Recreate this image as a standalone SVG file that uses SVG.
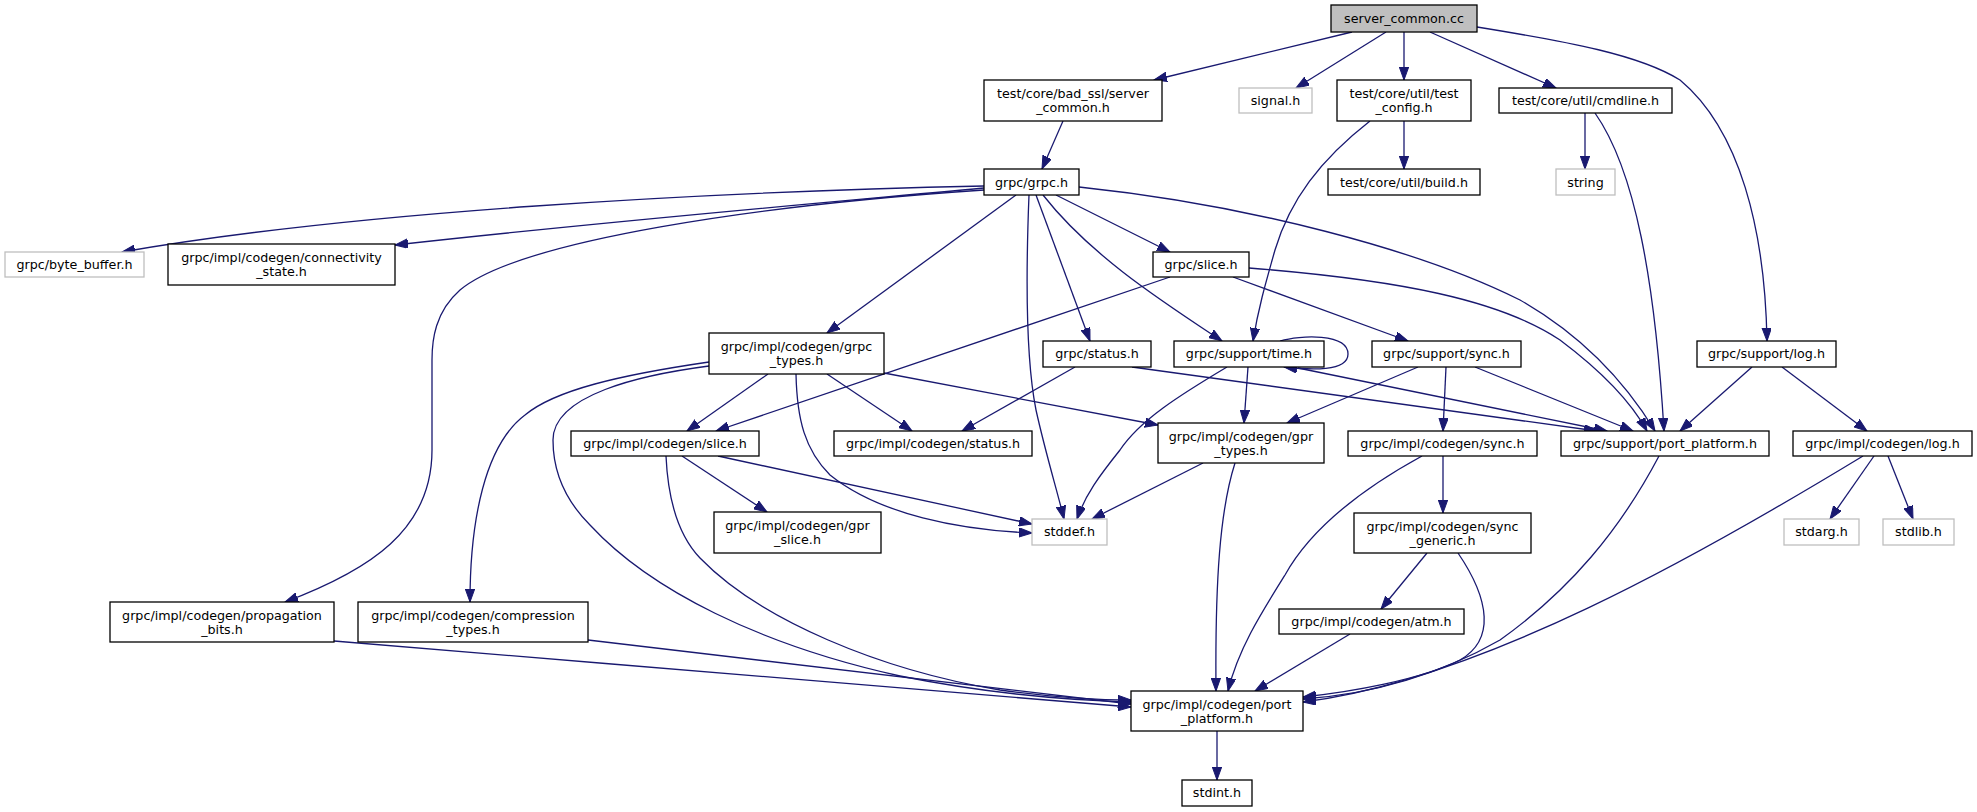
<svg xmlns="http://www.w3.org/2000/svg" width="1977" height="812" viewBox="0 0 1977 812">
<defs>
<marker id="ah" markerUnits="userSpaceOnUse" markerWidth="14" markerHeight="10" refX="13" refY="4.7" orient="auto">
<path d="M0,0 L13,4.7 L0,9.4 z" fill="#191970" stroke="#191970" stroke-width="1"/>
</marker>
</defs>
<style>
.n rect{fill:#ffffff;stroke:#000000;stroke-width:1.3}
.x rect{fill:#ffffff;stroke:#bfbfbf;stroke-width:1.3}
.r rect{fill:#bfbfbf;stroke:#000000;stroke-width:1.3}
text{font-family:"DejaVu Sans","Liberation Sans",sans-serif;font-size:12.7px;fill:#000000;text-anchor:middle}
#edges path{fill:none;stroke:#191970;stroke-width:1.3;marker-end:url(#ah)}
</style>
<rect width="1977" height="812" fill="#ffffff"/>
<g id="edges">
<path d="M1352,32 L1154,80"/>
<path d="M1386,32 L1296,88"/>
<path d="M1404,32 L1404,80"/>
<path d="M1430,32 L1556,88"/>
<path d="M1477,27 C1570,42 1640,55 1680,80 C1740,130 1765,230 1767,341"/>
<path d="M1063,121 L1042,169"/>
<path d="M1404,121 L1404,169"/>
<path d="M1370,121 C1320,160 1290,200 1275,250 C1265,285 1258,310 1253,341"/>
<path d="M1585,113 L1585,169"/>
<path d="M1595,113 C1635,170 1655,280 1664,431"/>
<path d="M1752,367 L1680,431"/>
<path d="M1782,367 L1867,431"/>
<path d="M1874,456 L1830,519"/>
<path d="M1888,456 L1913,519"/>
<path d="M1863,456 C1700,555 1480,680 1303,702"/>
<path d="M984,186 C700,192 350,212 122,252"/>
<path d="M984,188 C800,205 600,222 395,245"/>
<path d="M984,190 C760,205 520,240 460,290 C435,312 432,340 432,360 L432,450 C432,530 370,570 285,602"/>
<path d="M1016,195 L827,333"/>
<path d="M1029,195 C1026,270 1026,360 1036,410 C1046,455 1057,490 1064,519"/>
<path d="M1036,195 L1090,341"/>
<path d="M1043,195 C1090,255 1160,300 1222,341"/>
<path d="M1056,195 L1170,252"/>
<path d="M1079,187 C1250,205 1420,250 1520,300 C1590,340 1630,390 1655,431"/>
<path d="M1170,277 L716,431"/>
<path d="M1233,277 L1408,341"/>
<path d="M1249,268 C1400,280 1500,300 1560,340 C1600,370 1630,400 1647,431"/>
<path d="M1075,367 L962,431"/>
<path d="M1132,367 L1597,431"/>
<path d="M1298,368 L1607,431"/>
<path d="M1280,341 C1300,335 1348,333 1348,354 C1348,372 1310,370 1284,367"/>
<path d="M1227,367 C1180,395 1140,420 1120,450 C1100,475 1085,495 1077,519"/>
<path d="M1248,367 L1244,423"/>
<path d="M1418,367 L1287,423"/>
<path d="M1446,367 L1443,431"/>
<path d="M1475,367 L1633,431"/>
<path d="M768,374 L687,431"/>
<path d="M827,374 L912,431"/>
<path d="M884,373 L1158,425"/>
<path d="M796,374 C797,420 805,450 830,475 C880,515 960,530 1032,533"/>
<path d="M709,366 C640,375 553,395 553,440 C553,470 565,500 590,525 C650,590 760,645 900,676 C980,692 1060,700 1131,702"/>
<path d="M709,362 C620,375 555,390 525,415 C485,445 470,520 470,602"/>
<path d="M682,456 L767,512"/>
<path d="M718,456 L1032,524"/>
<path d="M666,456 C668,500 678,535 700,558 C760,620 880,670 1000,690 C1060,698 1100,700 1131,700"/>
<path d="M1203,463 L1092,519"/>
<path d="M1235,463 C1220,510 1215,580 1216,691"/>
<path d="M1443,456 L1443,513"/>
<path d="M1422,456 C1360,490 1310,530 1285,575 C1260,615 1238,650 1228,691"/>
<path d="M1427,553 L1381,609"/>
<path d="M1458,553 C1490,600 1495,640 1460,660 C1420,680 1350,692 1303,697"/>
<path d="M1350,634 L1255,691"/>
<path d="M1659,456 C1620,530 1570,590 1500,640 C1430,680 1360,695 1303,699"/>
<path d="M1217,731 L1217,780"/>
<path d="M334,641 C600,662 900,690 1131,707"/>
<path d="M588,640 L1131,704"/>
</g>
<g id="n0" class="r"><rect x="1331" y="5" width="146" height="27"/><text x="1404" y="23">server_common.cc</text></g>
<g id="n1" class="n"><rect x="984" y="80" width="178" height="41"/><text x="1073" y="97.5">test/core/bad_ssl/server</text><text x="1073" y="112">_common.h</text></g>
<g id="n2" class="x"><rect x="1239" y="88" width="73" height="25"/><text x="1275.5" y="105">signal.h</text></g>
<g id="n3" class="n"><rect x="1337" y="80" width="134" height="41"/><text x="1404" y="97.5">test/core/util/test</text><text x="1404" y="112">_config.h</text></g>
<g id="n4" class="n"><rect x="1499" y="88" width="173" height="25"/><text x="1585.5" y="105">test/core/util/cmdline.h</text></g>
<g id="n5" class="n"><rect x="984" y="169" width="95" height="26"/><text x="1031.5" y="186.5">grpc/grpc.h</text></g>
<g id="n6" class="n"><rect x="1328" y="169" width="152" height="26"/><text x="1404" y="186.5">test/core/util/build.h</text></g>
<g id="n7" class="x"><rect x="1556" y="169" width="59" height="26"/><text x="1585.5" y="186.5">string</text></g>
<g id="n8" class="x"><rect x="5" y="252" width="139" height="25"/><text x="74.5" y="269">grpc/byte_buffer.h</text></g>
<g id="n9" class="n"><rect x="168" y="244" width="227" height="41"/><text x="281.5" y="261.5">grpc/impl/codegen/connectivity</text><text x="281.5" y="276">_state.h</text></g>
<g id="n10" class="n"><rect x="1153" y="252" width="96" height="25"/><text x="1201" y="269">grpc/slice.h</text></g>
<g id="n11" class="n"><rect x="709" y="333" width="175" height="41"/><text x="796.5" y="350.5">grpc/impl/codegen/grpc</text><text x="796.5" y="365">_types.h</text></g>
<g id="n12" class="n"><rect x="1043" y="341" width="108" height="26"/><text x="1097" y="358">grpc/status.h</text></g>
<g id="n13" class="n"><rect x="1174" y="341" width="150" height="26"/><text x="1249" y="358">grpc/support/time.h</text></g>
<g id="n14" class="n"><rect x="1372" y="341" width="149" height="26"/><text x="1446.5" y="358">grpc/support/sync.h</text></g>
<g id="n15" class="n"><rect x="1697" y="341" width="139" height="26"/><text x="1766.5" y="358">grpc/support/log.h</text></g>
<g id="n16" class="n"><rect x="571" y="431" width="188" height="25"/><text x="665" y="448">grpc/impl/codegen/slice.h</text></g>
<g id="n17" class="n"><rect x="834" y="431" width="198" height="25"/><text x="933" y="448">grpc/impl/codegen/status.h</text></g>
<g id="n18" class="n"><rect x="1158" y="423" width="166" height="40"/><text x="1241" y="440.5">grpc/impl/codegen/gpr</text><text x="1241" y="455">_types.h</text></g>
<g id="n19" class="n"><rect x="1348" y="431" width="189" height="25"/><text x="1442.5" y="448">grpc/impl/codegen/sync.h</text></g>
<g id="n20" class="n"><rect x="1561" y="431" width="208" height="25"/><text x="1665" y="448">grpc/support/port_platform.h</text></g>
<g id="n21" class="n"><rect x="1793" y="431" width="179" height="25"/><text x="1882.5" y="448">grpc/impl/codegen/log.h</text></g>
<g id="n22" class="n"><rect x="714" y="512" width="167" height="41"/><text x="797.5" y="529.5">grpc/impl/codegen/gpr</text><text x="797.5" y="544">_slice.h</text></g>
<g id="n23" class="x"><rect x="1032" y="519" width="75" height="26"/><text x="1069.5" y="536">stddef.h</text></g>
<g id="n24" class="n"><rect x="1354" y="513" width="177" height="40"/><text x="1442.5" y="530.5">grpc/impl/codegen/sync</text><text x="1442.5" y="545">_generic.h</text></g>
<g id="n25" class="x"><rect x="1784" y="519" width="75" height="26"/><text x="1821.5" y="536">stdarg.h</text></g>
<g id="n26" class="x"><rect x="1883" y="519" width="71" height="26"/><text x="1918.5" y="536">stdlib.h</text></g>
<g id="n27" class="n"><rect x="110" y="602" width="224" height="40"/><text x="222" y="619.5">grpc/impl/codegen/propagation</text><text x="222" y="634">_bits.h</text></g>
<g id="n28" class="n"><rect x="358" y="602" width="230" height="40"/><text x="473" y="619.5">grpc/impl/codegen/compression</text><text x="473" y="634">_types.h</text></g>
<g id="n29" class="n"><rect x="1279" y="609" width="185" height="25"/><text x="1371.5" y="626">grpc/impl/codegen/atm.h</text></g>
<g id="n30" class="n"><rect x="1131" y="691" width="172" height="40"/><text x="1217" y="708.5">grpc/impl/codegen/port</text><text x="1217" y="723">_platform.h</text></g>
<g id="n31" class="n"><rect x="1182" y="780" width="70" height="26"/><text x="1217" y="797">stdint.h</text></g>
</svg>
